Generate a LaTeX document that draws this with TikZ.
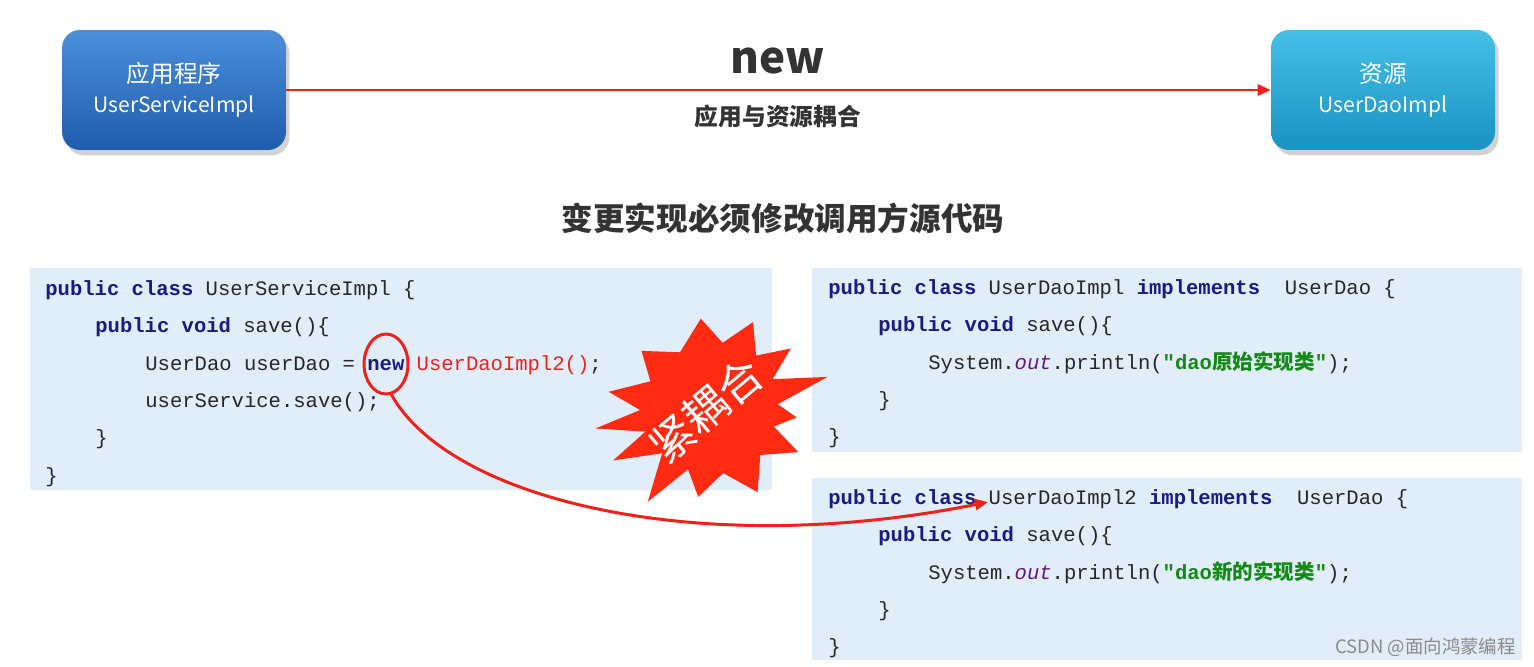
\documentclass[tikz,border=0pt]{standalone}
\usepackage{fontspec}
\usepackage{xcolor}
\usetikzlibrary{arrows.meta,shapes.geometric,shadows}
\newfontfamily\cjk{Noto Sans CJK SC}
\newfontfamily\codefont{Liberation Mono}
\definecolor{BoxBlueTop}{HTML}{4B8FDB}
\definecolor{BoxBlueBot}{HTML}{1F5CAB}
\definecolor{BoxCyanTop}{HTML}{45C0E8}
\definecolor{BoxCyanBot}{HTML}{1A92C2}
\definecolor{ArrowRed}{HTML}{F0201A}
\definecolor{StarRed}{HTML}{FF2A12}
\definecolor{PanelBg}{HTML}{E2EDFA}
\definecolor{KwNavy}{HTML}{1A1A82}
\definecolor{StrGreen}{HTML}{138A13}
\definecolor{FieldPurple}{HTML}{66157A}
\definecolor{CodeText}{HTML}{262626}
\definecolor{TitleGray}{HTML}{333333}
\definecolor{MarkGray}{HTML}{8A8A8A}
% small helpers for the code listings
\newcommand{\kw}[1]{\textcolor{KwNavy}{\bfseries #1}}
\newcommand{\fld}[1]{\textcolor{FieldPurple}{\itshape #1}}
\newcommand{\codestr}[1]{\textcolor{StrGreen}{\bfseries "dao{\cjk\bfseries #1}"}}
\newcommand{\latinline}{\fontsize{12}{17}\selectfont}

\begin{document}
\begin{tikzpicture}[
	x=0.02cm, y=-0.02cm, % one unit is one pixel of the slide
	% Style for the two module boxes
	module box/.style={
		rounded corners=0.36cm,
		minimum width=4.48cm,
		minimum height=2.4cm,
		align=center,
		text=white,
		font=\cjk\fontsize{13.5}{17}\selectfont,
		drop shadow={shadow xshift=2pt, shadow yshift=-3pt, opacity=0.35}
	},
	% Style for the red connectors
	link/.style={
		draw=ArrowRed,
		line width=1.7pt,
		-{Triangle[length=0.26cm,width=0.22cm]}
	},
	% Style for one line of source code
	codeline/.style={
		anchor=base west,
		inner sep=0pt,
		text=CodeText,
		font=\codefont\fontsize{11.7}{14}\selectfont
	},
	% Style for the mark round the keyword
	ring/.style={
		ellipse,
		draw=ArrowRed,
		line width=1.7pt,
		minimum width=0.88cm,
		minimum height=1.2cm,
		inner sep=0pt
	}
	]
	
	\fill[white] (0,0) rectangle (1534,666);
	\useasboundingbox (0,0) rectangle (1534,666);
	
	% 1. Top row: application, resource and the coupling arrow
	\node[module box, top color=BoxBlueTop, bottom color=BoxBlueBot] (app) at (174,90) {应用程序\\\latinline UserServiceImpl};
	\node[module box, top color=BoxCyanTop, bottom color=BoxCyanBot] (res) at (1383,90) {资源\\\latinline UserDaoImpl};
	\draw[link] (app) -- (res);
	\node[text=TitleGray, font=\cjk\bfseries\fontsize{25}{30}\selectfont] (newword) at (778,61) {new};
	\node[text=TitleGray, font=\cjk\bfseries\fontsize{13.5}{16}\selectfont] (coupling) at (778,116) {应用与资源耦合};
	
	% 2. Heading
	\node[text=TitleGray, font=\cjk\bfseries\fontsize{18}{22}\selectfont] (heading) at (783,218) {变更实现必须修改调用方源代码};
	
	% 3. Code panels
	\fill[PanelBg] (30,268) rectangle (772,490);
	\fill[PanelBg] (812,268) rectangle (1522,452);
	\fill[PanelBg] (812,478) rectangle (1522,660);
	
	% Service class
	\node[codeline] (svc1) at (45,295) {\kw{public class} UserServiceImpl \{};
	\node[codeline] (svc2) at (95,332) {\kw{public void} save()\{};
	\node[codeline] (svc3) at (145,370) {UserDao userDao = \kw{new} \textcolor{ArrowRed}{UserDaoImpl2()};};
	\node[codeline] (svc4) at (145,407) {userService.save();};
	\node[codeline] (svc5) at (95,444) {\}};
	\node[codeline] (svc6) at (45,482) {\}};
	
	% Original implementation
	\node[codeline] (dao1) at (828,294) {\kw{public class} UserDaoImpl \kw{implements}~~UserDao \{};
	\node[codeline] (dao2) at (878,331) {\kw{public void} save()\{};
	\node[codeline] (dao3) at (928,369) {System.\fld{out}.println(\codestr{原始实现类});};
	\node[codeline] (dao4) at (878,406) {\}};
	\node[codeline] (dao5) at (828,443) {\}};
	
	% New implementation
	\node[codeline] (nda1) at (828,504) {\kw{public class} UserDaoImpl2 \kw{implements}~~UserDao \{};
	\node[codeline] (nda2) at (878,541) {\kw{public void} save()\{};
	\node[codeline] (nda3) at (928,579) {System.\fld{out}.println(\codestr{新的实现类});};
	\node[codeline] (nda4) at (878,616) {\}};
	\node[codeline] (nda5) at (828,653) {\}};
	
	% 4. Mark on the keyword and the arrow to the new class
	\node[ring] (newmark) at (386,364) {};
	\coordinate (implTarget) at (988,502);
	\draw[link] (newmark.-80) .. controls (450,500) and (700,560) .. (implTarget);
	
	% 5. Burst with its label
	\begin{scope}[shift={(712,410)}]
		\fill[StarRed] (-97:92) -- (-81:68) -- (-65:97) -- (-51:70) -- (-38:100) -- (-27:68)
			-- (-16:120) -- (-5:66) -- (5:85) -- (15:64) -- (26:96) -- (43:66) -- (61:94)
			-- (80:64) -- (99:88) -- (112:64) -- (125:112) -- (139:66) -- (153:111)
			-- (162:70) -- (171:118) -- (180:72) -- (190:105) -- (205:68) -- (220:92)
			-- (241:66) -- cycle;
	\end{scope}
	\node[text=white, rotate=40, font=\cjk\fontsize{25}{30}\selectfont] (tight) at (706,410) {紧耦合};
	
	% 6. Watermark
	\node[anchor=east, text=MarkGray, font=\cjk\fontsize{10.5}{12}\selectfont] (mark) at (1522,647) {CSDN @面向鸿蒙编程};
	
\end{tikzpicture}
\end{document}
